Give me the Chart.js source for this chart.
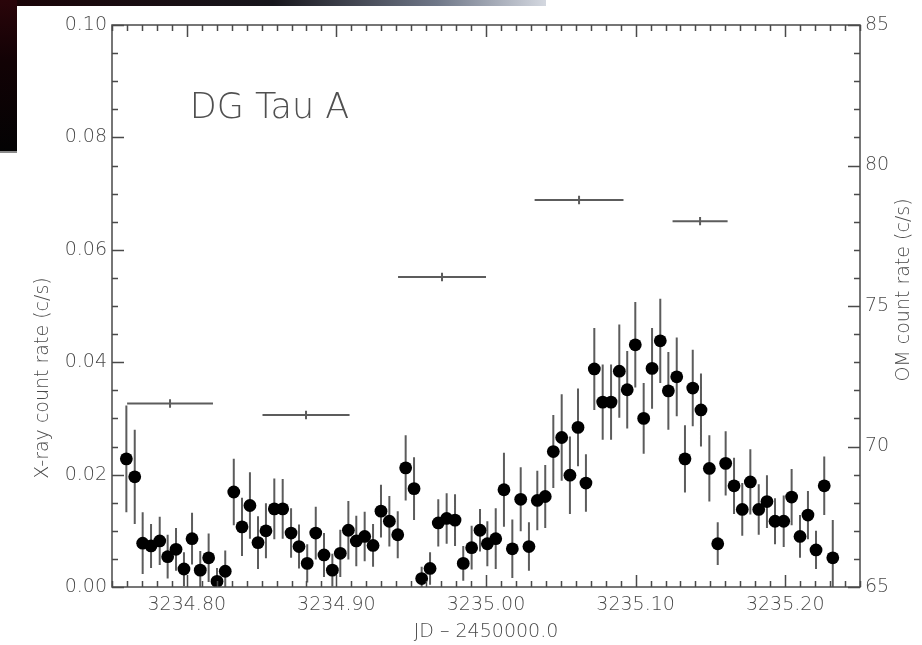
<!DOCTYPE html>
<html>
<head>
<meta charset="utf-8">
<title>DG Tau A</title>
<script src="https://cdn.jsdelivr.net/npm/chart.js@4"></script>
<style>
    html, body { margin: 0; padding: 0; background: #ffffff; }
    #lightcurve { display: block; }
</style>
</head>
<body>
<canvas id="lightcurve" width="922" height="645"></canvas>
<script>
// X-ray light curve (JD - 2450000.0, count rate c/s, 1-sigma error)
const xrayTime = [
    3234.7596, 3234.7652, 3234.7705, 3234.7761, 3234.7819, 3234.7872, 3234.7928, 3234.7981, 3234.8035, 3234.8090,
    3234.8146, 3234.8202, 3234.8257, 3234.8314, 3234.8369, 3234.8422, 3234.8476, 3234.8529, 3234.8585, 3234.8641,
    3234.8697, 3234.8750, 3234.8805, 3234.8862, 3234.8917, 3234.8973, 3234.9026, 3234.9080, 3234.9133, 3234.9189,
    3234.9245, 3234.9298, 3234.9354, 3234.9410, 3234.9463, 3234.9519, 3234.9570, 3234.9626, 3234.9681, 3234.9737,
    3234.9793, 3234.9848, 3234.9904, 3234.9960, 3235.0009, 3235.0065, 3235.0120, 3235.0176, 3235.0232, 3235.0287,
    3235.0343, 3235.0396, 3235.0450, 3235.0506, 3235.0561, 3235.0615, 3235.0668, 3235.0724, 3235.0780, 3235.0836,
    3235.0891, 3235.0944, 3235.0998, 3235.1054, 3235.1110, 3235.1165, 3235.1219, 3235.1275, 3235.1330, 3235.1382,
    3235.1437, 3235.1493, 3235.1549, 3235.1602, 3235.1658, 3235.1713, 3235.1767, 3235.1823, 3235.1878, 3235.1932,
    3235.1990, 3235.2043, 3235.2099, 3235.2152, 3235.2206, 3235.2261, 3235.2318
];
const xrayRate = [
    0.0228, 0.0196, 0.0078, 0.0073, 0.0082, 0.0054, 0.0067, 0.0032, 0.0086, 0.0030,
    0.0052, 0.0010, 0.0028, 0.0169, 0.0107, 0.0145, 0.0079, 0.0100, 0.0139, 0.0139,
    0.0096, 0.0072, 0.0042, 0.0096, 0.0057, 0.0030, 0.0060, 0.0101, 0.0082, 0.0090,
    0.0074, 0.0135, 0.0117, 0.0093, 0.0212, 0.0175, 0.0015, 0.0033, 0.0114, 0.0122,
    0.0119, 0.0042, 0.0070, 0.0101, 0.0077, 0.0086, 0.0173, 0.0068, 0.0156, 0.0072,
    0.0154, 0.0161, 0.0241, 0.0266, 0.0199, 0.0284, 0.0185, 0.0388, 0.0329, 0.0329,
    0.0384, 0.0351, 0.0431, 0.0300, 0.0389, 0.0438, 0.0349, 0.0374, 0.0228, 0.0354,
    0.0315, 0.0211, 0.0077, 0.0220, 0.0180, 0.0138, 0.0187, 0.0138, 0.0152, 0.0117,
    0.0117, 0.0160, 0.0090, 0.0128, 0.0066, 0.0180, 0.0052
];
const xrayErr = [
    0.0095, 0.0084, 0.0055, 0.0039, 0.0043, 0.0039, 0.0038, 0.0030, 0.0046, 0.0034,
    0.0043, 0.0024, 0.0037, 0.0059, 0.0052, 0.0059, 0.0047, 0.0049, 0.0054, 0.0053,
    0.0044, 0.0039, 0.0034, 0.0047, 0.0039, 0.0029, 0.0042, 0.0052, 0.0045, 0.0044,
    0.0038, 0.0047, 0.0045, 0.0042, 0.0058, 0.0056, 0.0021, 0.0029, 0.0042, 0.0045,
    0.0046, 0.0031, 0.0039, 0.0038, 0.0040, 0.0054, 0.0066, 0.0052, 0.0057, 0.0043,
    0.0053, 0.0056, 0.0065, 0.0077, 0.0069, 0.0069, 0.0051, 0.0073, 0.0067, 0.0067,
    0.0083, 0.0069, 0.0076, 0.0063, 0.0072, 0.0075, 0.0069, 0.0070, 0.0060, 0.0068,
    0.0065, 0.0059, 0.0038, 0.0057, 0.0050, 0.0047, 0.0058, 0.0045, 0.0047, 0.0041,
    0.0046, 0.0050, 0.0038, 0.0043, 0.0034, 0.0052, 0.0067
];

// Optical Monitor exposures (centre time, half exposure length, count rate, error)
const omTime = [3234.7888, 3234.8797, 3234.9706, 3235.0622, 3235.1431];
const omHalfWidth = [0.0287, 0.0291, 0.0294, 0.0297, 0.0184];
const omRate = [71.53, 71.12, 76.03, 78.77, 78.02];
const omErr = [0.15, 0.15, 0.15, 0.15, 0.15];

// Axes
const xTickVals = [3234.80, 3234.90, 3235.00, 3235.10, 3235.20];
const xTickLabels = ['3234.80', '3234.90', '3235.00', '3235.10', '3235.20'];
const yTickVals = [0.00, 0.02, 0.04, 0.06, 0.08, 0.10];
const yTickLabels = ['0.00', '0.02', '0.04', '0.06', '0.08', '0.10'];
const omTickVals = [65, 70, 75, 80, 85];
const omTickLabels = ['65', '70', '75', '80', '85'];

(function() {
    'use strict';

    const INK = '#4a4a4a';
    const BAR = '#5c5c5c';
    const FONT = '"DejaVu Sans", "Liberation Sans", sans-serif';
    const WEIGHT = 200;

    // minor tick spacing of the IDL-style box
    const MINOR = { x: 0.01, y: 0.005, om: 1 };

    /**
     * Dark slide edge visible in the top left of the screenshot
     */
    const backdropPlugin = {
        id: 'backdrop',
        beforeDraw(chart) {
            const ctx = chart.ctx;
            ctx.save();
            ctx.fillStyle = '#ffffff';
            ctx.fillRect(0, 0, chart.width, chart.height);

            const band = ctx.createLinearGradient(0, 0, 546, 0);
            band.addColorStop(0, '#1a0306');
            band.addColorStop(0.5, '#17161c');
            band.addColorStop(0.8, '#6f7788');
            band.addColorStop(1, '#d4d8e0');
            ctx.fillStyle = band;
            ctx.fillRect(0, 0, 546, 6);

            const side = ctx.createLinearGradient(0, 0, 0, 152);
            side.addColorStop(0, '#2a050a');
            side.addColorStop(0.4, '#120205');
            side.addColorStop(1, '#030303');
            ctx.fillStyle = side;
            ctx.fillRect(0, 0, 17, 152);
            ctx.fillStyle = '#8a8a8a';
            ctx.fillRect(0, 151, 17, 2);
            ctx.restore();
        }
    };

    /**
     * Error bars for both series, drawn below the markers
     */
    const errorBarPlugin = {
        id: 'errorBars',
        beforeDatasetsDraw(chart) {
            const { ctx, chartArea, scales } = chart;
            const xs = scales.x, ys = scales.y, os = scales.y2;
            ctx.save();
            ctx.beginPath();
            ctx.rect(chartArea.left, chartArea.top, chartArea.right - chartArea.left, chartArea.bottom - chartArea.top);
            ctx.clip();
            ctx.strokeStyle = BAR;
            ctx.lineWidth = 2;
            ctx.beginPath();
            xrayTime.forEach((t, i) => {
                const px = xs.getPixelForValue(t);
                ctx.moveTo(px, ys.getPixelForValue(xrayRate[i] + xrayErr[i]));
                ctx.lineTo(px, ys.getPixelForValue(xrayRate[i] - xrayErr[i]));
            });
            omTime.forEach((t, i) => {
                const py = os.getPixelForValue(omRate[i]);
                const px = xs.getPixelForValue(t);
                ctx.moveTo(xs.getPixelForValue(t - omHalfWidth[i]), py);
                ctx.lineTo(xs.getPixelForValue(t + omHalfWidth[i]), py);
                ctx.moveTo(px, os.getPixelForValue(omRate[i] + omErr[i]));
                ctx.lineTo(px, os.getPixelForValue(omRate[i] - omErr[i]));
            });
            ctx.stroke();
            ctx.restore();
        }
    };

    /**
     * Closed box with inward major and minor ticks, titles
     */
    const framePlugin = {
        id: 'frame',
        afterDatasetsDraw(chart) {
            const { ctx, chartArea: a, scales } = chart;
            const xs = scales.x, ys = scales.y, os = scales.y2;
            const near = (v, step) => Math.abs(v / step - Math.round(v / step)) < 1e-6;
            ctx.save();
            ctx.strokeStyle = INK;
            ctx.lineWidth = 1.5;
            ctx.strokeRect(a.left, a.top, a.right - a.left, a.bottom - a.top);
            ctx.beginPath();

            for (let v = xs.min; v <= xs.max + 1e-9; v += MINOR.x) {
                const px = Math.round(xs.getPixelForValue(v)) + 0.5;
                const len = near(v, 0.1) ? 12 : 6;
                ctx.moveTo(px, a.bottom); ctx.lineTo(px, a.bottom - len);
                ctx.moveTo(px, a.top); ctx.lineTo(px, a.top + len);
            }
            for (let v = ys.min; v <= ys.max + 1e-9; v += MINOR.y) {
                const py = Math.round(ys.getPixelForValue(v)) + 0.5;
                const len = near(v, 0.02) ? 12 : 6;
                ctx.moveTo(a.left, py); ctx.lineTo(a.left + len, py);
            }
            for (let v = os.min; v <= os.max + 1e-9; v += MINOR.om) {
                const py = Math.round(os.getPixelForValue(v)) + 0.5;
                const len = v % 5 === 0 ? 12 : 6;
                ctx.moveTo(a.right, py); ctx.lineTo(a.right - len, py);
            }
            ctx.stroke();

            // object name inside the box
            ctx.fillStyle = '#505050';
            ctx.font = WEIGHT + ' 35px ' + FONT;
            ctx.textBaseline = 'alphabetic';
            ctx.fillText('DG Tau A', xs.getPixelForValue(3234.8020), ys.getPixelForValue(0.0835));

            // both y titles read upward
            ctx.font = WEIGHT + ' 19px ' + FONT;
            ctx.fillStyle = INK;
            ctx.textAlign = 'center';
            ctx.textBaseline = 'middle';
            ctx.save();
            ctx.translate(43, 378);
            ctx.rotate(-Math.PI / 2);
            ctx.fillText('X-ray count rate (c/s)', 0, 0);
            ctx.restore();
            ctx.translate(904, 290);
            ctx.rotate(-Math.PI / 2);
            ctx.fillText('OM count rate (c/s)', 0, 0);
            ctx.restore();
        }
    };

    const tickFont = { family: FONT, size: 19, weight: WEIGHT };

    new Chart(document.getElementById('lightcurve').getContext('2d'), {
        type: 'scatter',
        data: {
            datasets: [{
                label: 'X-ray',
                data: xrayTime.map((t, i) => ({ x: t, y: xrayRate[i] })),
                yAxisID: 'y',
                pointRadius: 6.4,
                pointBackgroundColor: '#000000',
                pointBorderWidth: 0
            }, {
                label: 'OM',
                data: omTime.map((t, i) => ({ x: t, y: omRate[i] })),
                yAxisID: 'y2',
                pointRadius: 0
            }]
        },
        options: {
            responsive: false,
            animation: false,
            events: [],
            layout: { padding: { top: 25, left: 0, right: 0, bottom: 0 } },
            plugins: {
                legend: { display: false },
                tooltip: { enabled: false }
            },
            scales: {
                x: {
                    type: 'linear',
                    position: 'bottom',
                    min: 3234.75,
                    max: 3235.25,
                    grid: { display: false, drawTicks: false },
                    border: { display: false },
                    afterBuildTicks: s => { s.ticks = xTickVals.map(v => ({ value: v })); },
                    afterFit: s => { s.height = 58; },
                    ticks: {
                        autoSkip: false,
                        maxRotation: 0,
                        padding: 7,
                        color: INK,
                        font: tickFont,
                        callback: (v, i) => xTickLabels[i]
                    },
                    title: {
                        display: true,
                        text: 'JD – 2450000.0',
                        color: INK,
                        font: tickFont,
                        padding: { top: 0, bottom: 2 }
                    }
                },
                y: {
                    position: 'left',
                    min: 0,
                    max: 0.1,
                    grid: { display: false, drawTicks: false },
                    border: { display: false },
                    afterBuildTicks: s => { s.ticks = yTickVals.map(v => ({ value: v })); },
                    afterFit: s => { s.width = 112; },
                    ticks: {
                        padding: 5,
                        color: INK,
                        font: tickFont,
                        callback: (v, i) => yTickLabels[i]
                    }
                },
                y2: {
                    position: 'right',
                    min: 65,
                    max: 85,
                    grid: { display: false, drawTicks: false },
                    border: { display: false },
                    afterBuildTicks: s => { s.ticks = omTickVals.map(v => ({ value: v })); },
                    afterFit: s => { s.width = 62; },
                    ticks: {
                        padding: 5,
                        color: INK,
                        font: tickFont,
                        callback: (v, i) => omTickLabels[i]
                    }
                }
            }
        },
        plugins: [backdropPlugin, errorBarPlugin, framePlugin]
    });
})();
</script>
</body>
</html>
